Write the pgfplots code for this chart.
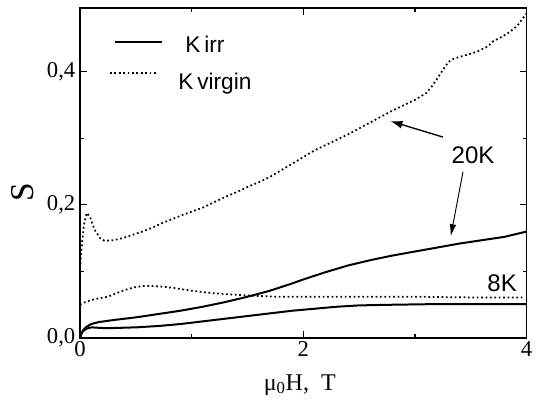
\documentclass[border=0pt]{standalone}
\usepackage{fontspec}
\setmainfont{Liberation Serif}
\newfontfamily\arial{Liberation Sans}
\usepackage{pgfplots}
\pgfplotsset{compat=1.18}
\usetikzlibrary{arrows.meta}
\begin{document}
\begin{tikzpicture}
\begin{axis}[name=ax,
  scale only axis, width=335pt, height=247.5pt,
  xmin=0, xmax=4, ymin=0, ymax=0.496,
  xtick={0,2,4}, minor xtick={1,3},
  ytick={0,0.2,0.4}, yticklabels={{0,0},{0,2},{0,4}},
  minor ytick={0.1,0.3},
  tick align=inside, major tick length=5pt, minor tick length=3pt,
  axis line style={line width=1pt},
  every tick/.style={black, line width=0.8pt},
  ticklabel style={font=\fontsize{17}{19}\selectfont},
  /pgf/number format/assume math mode=true,
  xticklabel style={yshift=1pt},
  xlabel={μ\textsubscript{0}H,~ T},
  xlabel style={font=\fontsize{18}{20}\selectfont, at={(rel axis cs:0.492,-0.142)}, anchor=center},
  ylabel={S},
  ylabel style={font=\fontsize{25}{27}\selectfont, at={(rel axis cs:-0.128,0.442)}, anchor=center},
]
% 8K irr
\addplot[black, line width=1.5pt] coordinates {
(0,0.0) (0.01,0.006) (0.03,0.011) (0.06,0.014) (0.1,0.016) (0.2,0.015) (0.3,0.015)
(0.5,0.016) (0.7,0.018) (0.9,0.021) (1.1,0.025) (1.3,0.029) (1.5,0.033) (1.7,0.037)
(1.9,0.041) (2.1,0.044) (2.3,0.047) (2.5,0.049) (2.8,0.050) (3.2,0.051) (3.6,0.051) (4.0,0.051)};
% 8K virgin
\addplot[black, line width=1.3pt, dash pattern=on 1.3pt off 2pt] coordinates {
(0.0,0.050) (0.03,0.053) (0.1,0.057) (0.18,0.060) (0.25,0.062) (0.32,0.067) (0.4,0.072)
(0.48,0.076) (0.56,0.078) (0.65,0.078) (0.75,0.077) (0.85,0.075) (1.0,0.071) (1.15,0.068)
(1.3,0.066) (1.5,0.064) (1.75,0.062) (2.0,0.062) (2.5,0.062) (3.0,0.062) (3.5,0.061) (3.97,0.061)};
% 20K irr
\addplot[black, line width=1.5pt] coordinates {
(0,0.0) (0.01,0.006) (0.03,0.012) (0.06,0.017) (0.1,0.021) (0.17,0.024) (0.3,0.027)
(0.5,0.031) (0.7,0.036) (0.9,0.041) (1.1,0.047) (1.3,0.054) (1.5,0.062) (1.7,0.071)
(1.9,0.082) (2.0,0.088) (2.2,0.099) (2.4,0.109) (2.6,0.117) (2.8,0.124) (3.0,0.130)
(3.2,0.136) (3.4,0.142) (3.6,0.147) (3.8,0.152) (4.0,0.160)};
% 20K virgin
\addplot[black, line width=1.3pt, dash pattern=on 1.3pt off 2pt] coordinates {
(0.00,0.105) (0.01,0.125) (0.02,0.145) (0.035,0.170) (0.06,0.188) (0.09,0.182) (0.13,0.163)
(0.18,0.150) (0.22,0.146) (0.30,0.147) (0.38,0.150) (0.47,0.155) (0.56,0.160) (0.65,0.166)
(0.74,0.173) (0.83,0.179) (0.92,0.185) (1.0,0.190) (1.1,0.196) (1.2,0.204) (1.3,0.212)
(1.4,0.219) (1.5,0.227) (1.6,0.234) (1.7,0.242) (1.8,0.252) (1.9,0.262) (2.0,0.272)
(2.1,0.282) (2.2,0.290) (2.3,0.298) (2.4,0.306) (2.5,0.315) (2.6,0.324) (2.7,0.333)
(2.8,0.342) (2.9,0.350) (3.0,0.358) (3.1,0.368) (3.15,0.378) (3.2,0.390) (3.25,0.403)
(3.3,0.415) (3.35,0.420) (3.45,0.425) (3.55,0.430) (3.65,0.438) (3.7,0.446) (3.77,0.452)
(3.85,0.460) (3.92,0.470) (4.0,0.488)};
% legend
\draw[black, line width=1.5pt] (axis cs:0.314,0.445) -- (axis cs:0.735,0.445);
\node[anchor=base west, inner sep=0pt, font=\arial\fontsize{17}{19}\selectfont] at (axis cs:0.942,0.4286) {K\,irr};
\draw[black, line width=1.3pt, dash pattern=on 1.3pt off 2pt] (axis cs:0.269,0.398) -- (axis cs:0.69,0.398);
\node[anchor=base west, inner sep=0pt, font=\arial\fontsize{17}{19}\selectfont] at (axis cs:0.879,0.373) {K\,virgin};
% annotations
\node[font=\arial\fontsize{18}{20}\selectfont] at (axis cs:3.52,0.275) {20K};
\node[font=\arial\fontsize{18}{20}\selectfont] at (axis cs:3.78,0.083) {8K};
\draw[-{Latex[length=9pt,width=6pt]}, line width=1pt] (axis cs:3.25,0.302) -- (axis cs:2.78,0.326);
\draw[-{Latex[length=9pt,width=5pt]}, line width=0.7pt] (axis cs:3.43,0.25) -- (axis cs:3.32,0.153);
\end{axis}
\path ([shift={(-60pt,-49.5pt)}]ax.south west) rectangle ++(402.75pt,303pt);
\end{tikzpicture}
\end{document}
